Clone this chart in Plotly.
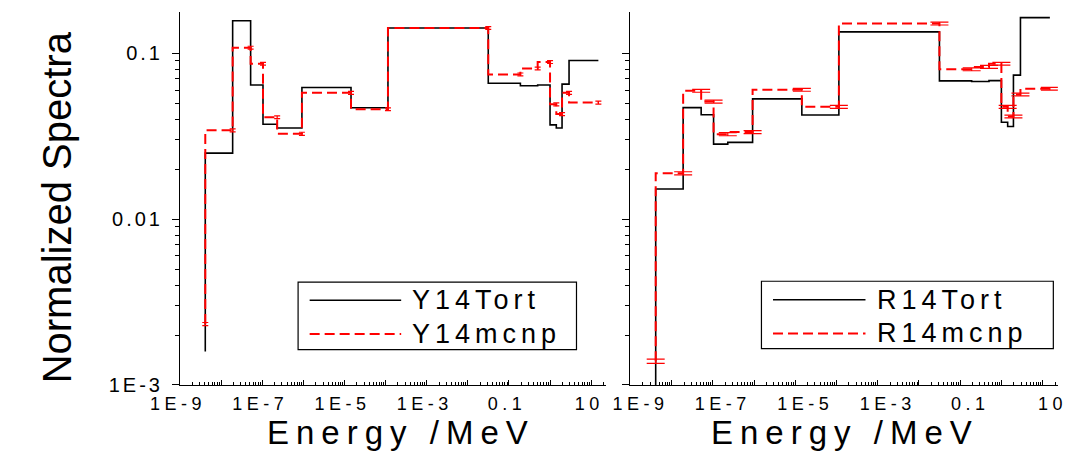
import plotly.graph_objects as go

# ---- data ----
# energy points: first = lower edge of first group, rest = upper edges of groups (MeV)
energy = [4.1e-9, 1.9e-8, 5.2e-8, 1.04e-7, 2.3e-7, 9.2e-7, 1.44e-5, 1.14e-4,
          0.0314, 0.19, 0.50, 1.0, 1.42, 1.96, 2.9, 15.0]

y14_tort = [0.00159, 0.025, 0.157, 0.0644, 0.0373, 0.0354, 0.0622, 0.0469,
            0.142, 0.0659, 0.0637, 0.0644, 0.037, 0.0354, 0.0651, 0.0905]
y14_mcnp = [0.00233, 0.0343, 0.108, 0.0865, 0.0411, 0.0327, 0.0577, 0.046,
            0.142, 0.0745, 0.0809, 0.0885, 0.0492, 0.043, 0.0577, 0.0504]
y14_mcnp_err = [0.00005, 0.0007, 0.0022, 0.0017, 0.0008, 0.0007, 0.0012, 0.0009,
                0.0028, 0.0015, 0.0016, 0.0018, 0.001, 0.0009, 0.0012, 0.001]

r14_tort = [0.00099, 0.0152, 0.047, 0.0426, 0.0283, 0.029, 0.0531, 0.0424,
            0.1345, 0.0681, 0.0675, 0.0684, 0.0384, 0.0362, 0.0738, 0.164]
r14_mcnp = [0.00139, 0.0189, 0.0594, 0.0511, 0.0325, 0.0335, 0.0602, 0.0475,
            0.151, 0.080, 0.0827, 0.0865, 0.0475, 0.0416, 0.0564, 0.0611]
r14_mcnp_err = [0.00004, 0.0004, 0.0012, 0.001, 0.0007, 0.0007, 0.0012, 0.001,
                0.003, 0.0016, 0.0017, 0.0017, 0.001, 0.0008, 0.0011, 0.0012]

x_major = [1e-9, 1e-8, 1e-7, 1e-6, 1e-5, 1e-4, 1e-3, 1e-2, 1e-1, 1e0, 1e1]
x_major_text = ["1E-9", "", "1E-7", "", "1E-5", "", "1E-3", "", "0.1", "", "10"]
y_major = [1e-3, 1e-2, 1e-1]
y_major_text = ["1E-3", "0.01", "0.1"]

labels_left = ["Y14Tort", "Y14mcnp"]
labels_right = ["R14Tort", "R14mcnp"]
x_title = "Energy /MeV"
y_title = "Normalized Spectra"

# ---- styling ----
FONT = "Liberation Sans, Arial, sans-serif"
PAGE_W, PAGE_H = 1079, 471
OFF = 8  # default body margin of the html page
W, H = PAGE_W - 2 * OFF, PAGE_H - 2 * OFF
BLACK_W = 1.6
RED = "#ff0000"
RED_DASH = "10px,5px"


def px(x):
    return (x - OFF) / W


def py(y):
    return (H - (y - OFF)) / H


def spaced(s, sp):
    return s if not s else f'<span style="letter-spacing:{sp}px">{s}</span>'


x_minor = [m * 10.0 ** k for k in range(-9, 2) for m in range(2, 10)]
y_minor = [m * 10.0 ** k for k in range(-3, 0) for m in range(2, 10)]

fig = go.Figure()


def add_panel(xa, ya, tort, mcnp, err, cap):
    fig.add_trace(go.Scatter(
        x=energy, y=tort, mode="lines", line=dict(color="black", width=BLACK_W, shape="vh"),
        xaxis=xa, yaxis=ya, showlegend=False, hoverinfo="skip"))
    fig.add_trace(go.Scatter(
        x=energy, y=mcnp, mode="lines",
        line=dict(color=RED, width=2, shape="vh", dash=RED_DASH),
        error_y=dict(type="data", array=err, visible=True, color=RED, thickness=1.2, width=cap),
        xaxis=xa, yaxis=ya, showlegend=False, hoverinfo="skip"))


add_panel("x", "y", y14_tort, y14_mcnp, y14_mcnp_err, 3)
add_panel("x2", "y2", r14_tort, r14_mcnp, r14_mcnp_err, 9)

left_dom = [px(155.5), px(598)]
right_dom = [px(623), px(1066.7)]
y_dom = [py(394.3), py(11.7)]


def xaxis(dom, anchor, shift):
    return dict(
        type="log", domain=dom, anchor=anchor, range=[-9, 1.37],
        showline=True, linecolor="black", linewidth=1.2, mirror=False,
        showgrid=False, zeroline=False,
        tickmode="array", tickvals=x_major,
        ticktext=[spaced(t, 4.5) for t in x_major_text],
        ticks="inside", ticklen=5, tickwidth=1.2, tickcolor="black",
        ticklabelstandoff=2, ticklabelshift=shift, ticklabeloverflow="allow",
        tickfont=dict(family=FONT, size=18, color="black"),
        minor=dict(tickmode="array", tickvals=x_minor, ticks="inside",
                   ticklen=2.5, tickwidth=1, tickcolor="black", showgrid=False),
    )


def yaxis(anchor, show_labels):
    return dict(
        type="log", domain=y_dom, anchor=anchor, range=[-3, -0.749],
        showline=True, linecolor="black", linewidth=1.2, mirror=False,
        showgrid=False, zeroline=False,
        tickmode="array", tickvals=y_major,
        ticktext=[spaced(t, 3) for t in y_major_text],
        showticklabels=show_labels,
        ticks="outside", ticklen=7, tickwidth=1.2, tickcolor="black",
        ticklabelstandoff=5,
        tickfont=dict(family=FONT, size=20, color="black"),
        minor=dict(tickmode="array", tickvals=y_minor, ticks="outside",
                   ticklen=4, tickwidth=1, tickcolor="black", showgrid=False),
    )


shapes = []
annotations = []


def legend(box, line_x, line_y, text_x, labels):
    x0, x1, y0, y1 = box
    shapes.append(dict(type="rect", xref="paper", yref="paper",
                       x0=px(x0), x1=px(x1), y0=py(y1), y1=py(y0),
                       line=dict(color="black", width=1.2), fillcolor="white", layer="above"))
    shapes.append(dict(type="line", xref="paper", yref="paper",
                       x0=px(line_x[0]), x1=px(line_x[1]),
                       y0=py(line_y[0]), y1=py(line_y[0]),
                       line=dict(color="black", width=BLACK_W), layer="above"))
    shapes.append(dict(type="line", xref="paper", yref="paper",
                       x0=px(line_x[0]), x1=px(line_x[1]),
                       y0=py(line_y[1]), y1=py(line_y[1]),
                       line=dict(color=RED, width=2, dash=RED_DASH), layer="above"))
    for lab, ly in zip(labels, line_y):
        annotations.append(dict(text=spaced(lab, 5), xref="paper", yref="paper",
                                x=px(text_x), y=py(ly), xanchor="left", yanchor="middle",
                                showarrow=False, font=dict(family=FONT, size=27, color="black")))


legend((278, 567, 289, 358), (290, 385), (307.5, 342), 394, labels_left)
legend((759, 1062, 288, 357), (771, 867), (307, 341.5), 877, labels_right)

for cx in (385, 846):
    annotations.append(dict(text=spaced(x_title, 7), xref="paper", yref="paper",
                            x=px(cx), y=py(443), xanchor="center", yanchor="middle",
                            showarrow=False, font=dict(family=FONT, size=33, color="black")))
annotations.append(dict(text=y_title, xref="paper", yref="paper",
                        x=px(28), y=py(212), xanchor="center", yanchor="middle",
                        textangle=-90, showarrow=False,
                        font=dict(family=FONT, size=40, color="black")))

fig.update_layout(
    width=W, height=H,
    margin=dict(l=0, r=0, t=0, b=0),
    paper_bgcolor="white", plot_bgcolor="white",
    xaxis=xaxis(left_dom, "y", -2),
    yaxis=yaxis("x", True),
    xaxis2=xaxis(right_dom, "y2", 10),
    yaxis2=yaxis("x2", False),
    shapes=shapes,
    annotations=annotations,
    showlegend=False,
)

fig.write_html("out.html", config={"displayModeBar": False})
